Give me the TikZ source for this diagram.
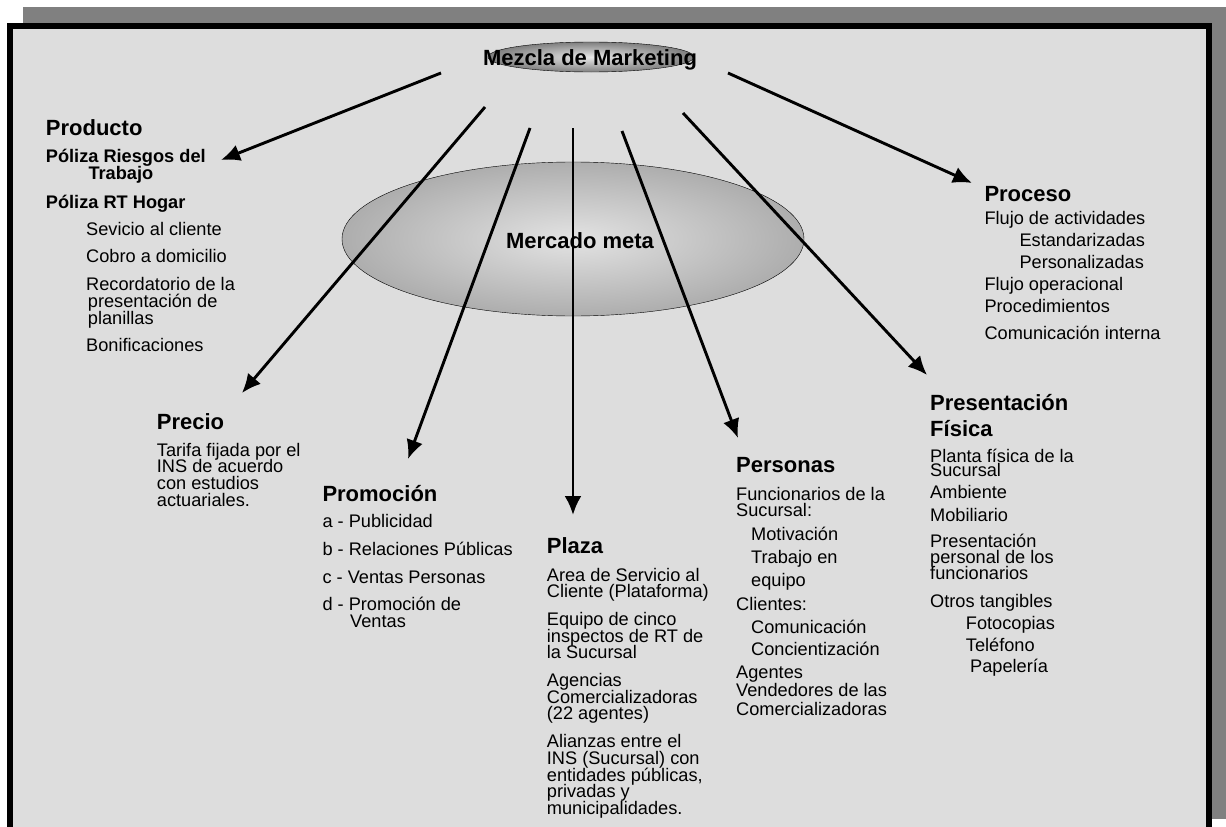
\documentclass[tikz,border=0pt]{standalone}
\usepackage{fontspec}
\setmainfont{Liberation Sans}
\usetikzlibrary{arrows.meta,shapes.geometric}

\definecolor{framegray}{HTML}{808080}
\definecolor{panelgray}{HTML}{DDDDDD}

\begin{document}
\begin{tikzpicture}[x=1pt, y=-1pt,
  head/.style={anchor=base west, inner sep=0pt, font=\fontsize{22}{26}\selectfont\bfseries},
  headm/.style={anchor=north west, yshift=16.1pt, inner sep=0pt, align=left, font={\fontsize{22}{26}\selectfont\bfseries\lineskiplimit=-100pt}},
  txt/.style={anchor=north west, yshift=13.3pt, inner sep=0pt, align=left, font={\fontsize{18.2}{16.7}\selectfont\lineskiplimit=-100pt}},
  txtb/.style={txt, font={\fontsize{18.2}{16.7}\selectfont\bfseries\lineskiplimit=-100pt}},
  mixarrow/.style={->, >={Latex[length=19pt,width=17pt]}, line width=2.9pt}]

\useasboundingbox (0,0) rectangle (1226,827);

% Draw the shadow and the frame
\fill [framegray] (22.7,7.3) rectangle (1230,819);
\draw [line width=6pt, fill=panelgray] (9.7,26.3) rectangle (1209,832);

% Target market in the middle
\node [ellipse, draw, thin, minimum width=462pt, minimum height=154pt, inner color=gray!22, outer color=gray!64] (meta) at (573,239) {};
\node [anchor=base, inner sep=0pt, font=\fontsize{22}{26}\selectfont\bfseries] (meta-txt) at (580,248) {Mercado meta};

% Marketing mix at the top
\node [ellipse, draw, thin, minimum width=206pt, minimum height=30pt, inner color=gray!18, outer color=black!50] (mix) at (591,57) {};
\node [anchor=base, inner sep=0pt, font=\fontsize{22}{26}\selectfont\bfseries] (mix-txt) at (590,65) {Mezcla de Marketing};

% Arrow tails and tips
\coordinate (tail-prod) at (441,73);
\coordinate (tail-proc) at (728,73);
\coordinate (tail-prec) at (485,107);
\coordinate (tail-prom) at (530,128);
\coordinate (tail-plaz) at (573,128);
\coordinate (tail-pers) at (622,131);
\coordinate (tail-pres) at (683,113);

\coordinate (tip-prod) at (221,160);
\coordinate (tip-proc) at (972,183);
\coordinate (tip-prec) at (242,393);
\coordinate (tip-prom) at (408,459);
\coordinate (tip-plaz) at (573,515);
\coordinate (tip-pers) at (738,438);
\coordinate (tip-pres) at (927,375);

\draw [mixarrow] (tail-prod) -- (tip-prod);
\draw [mixarrow] (tail-proc) -- (tip-proc);
\draw [mixarrow] (tail-prec) -- (tip-prec);
\draw [mixarrow] (tail-prom) -- (tip-prom);
\draw [mixarrow] (tail-plaz) -- (tip-plaz);
\draw [mixarrow] (tail-pers) -- (tip-pers);
\draw [mixarrow] (tail-pres) -- (tip-pres);

% Producto
\node [head] (producto) at (45.7,135) {Producto};
\node [txtb] (producto-polizas) at (45.7,162.7) {Póliza Riesgos del\\\hspace*{42.6pt}Trabajo\\[11.7pt]Póliza RT Hogar};
\node [txt] (producto-items) at (86,235) {Sevicio al cliente\\[11pt]Cobro a domicilio\\[11.3pt]Recordatorio de la\\\hspace*{1.7pt}presentación de\\\hspace*{1.7pt}planillas\\[10.7pt]Bonificaciones};

% Proceso
\node [head] (proceso) at (984.3,201.7) {Proceso};
\node [txt] (proceso-items) at (984.3,224) {Flujo de actividades\\[5.5pt]\hspace*{35pt}Estandarizadas\\[5.5pt]\hspace*{35pt}Personalizadas\\[5.5pt]Flujo operacional\\[5.5pt]Procedimientos\\[10pt]Comunicación interna};

% Precio
\node [head] (precio) at (156.7,429.3) {Precio};
\node [txt] (precio-items) at (156.7,456) {Tarifa fijada por el\\INS de acuerdo\\con estudios\\actuariales.};

% Promocion
\node [head] (promocion) at (322.3,501) {Promoción};
\node [txt] (promocion-items) at (322.3,527.7) {a - Publicidad\\[11pt]b - Relaciones Públicas\\[11pt]c - Ventas Personas\\[11pt]d - Promoción de\\\hspace*{27.7pt}Ventas};

% Plaza
\node [head] (plaza) at (546.7,553.3) {Plaza};
\node [txt] (plaza-items) at (546.7,581) {Area de Servicio al\\Cliente (Plataforma)\\[11pt]Equipo de cinco\\inspectos de RT de\\la Sucursal\\[11pt]Agencias\\Comercializadoras\\(22 agentes)\\[11pt]Alianzas entre el\\INS (Sucursal) con\\entidades públicas,\\privadas y\\municipalidades.};

% Personas
\node [head] (personas) at (736,472.7) {Personas};
\node [txt] (personas-items) at (736,500) {Funcionarios de la\\Sucursal:\\[7.3pt]\hspace*{15pt}Motivación\\[6pt]\hspace*{15pt}Trabajo en\\[6.7pt]\hspace*{15pt}equipo\\[7.3pt]Clientes:\\[6pt]\hspace*{15pt}Comunicación\\[5pt]\hspace*{15pt}Concientización\\[6.6pt]Agentes\\[1.7pt]Vendedores de las\\[1.6pt]Comercializadoras};

% Presentacion fisica
\node [headm] (presentacion) at (930,410) {Presentación\\Física};
\node [txt] (presentacion-items) at (930,461.7) {Planta física de la\\[-2.4pt]Sucursal\\[5pt]Ambiente\\[6.6pt]Mobiliario\\[9pt]Presentación\\personal de los\\[-0.7pt]funcionarios\\[10.7pt]Otros tangibles\\[5.6pt]\hspace*{35.7pt}Fotocopias\\[5pt]\hspace*{35.7pt}Teléfono\\[4.6pt]\hspace*{40pt}Papelería};

\end{tikzpicture}
\end{document}
